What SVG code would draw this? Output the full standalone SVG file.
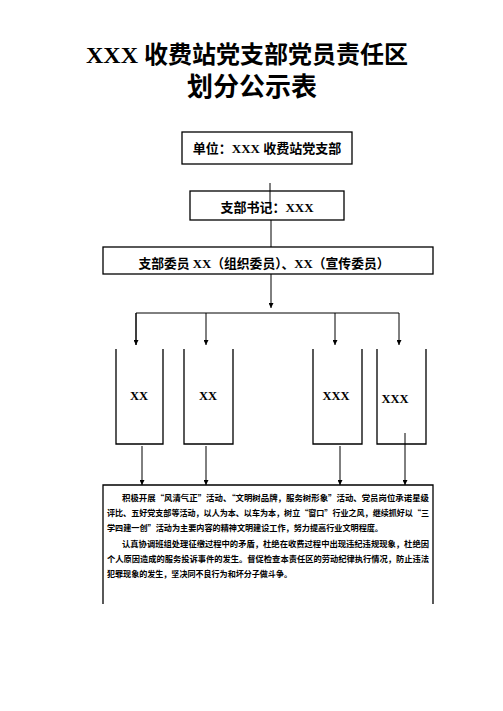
<svg xmlns="http://www.w3.org/2000/svg" width="503" height="711" viewBox="0 0 503 711">
<style>
.bg{fill:#fff}
.box{fill:none;stroke:#000;stroke-width:1.3}
.ln{fill:none;stroke:#000;stroke-width:1}
.title{font-family:"Liberation Serif","Noto Sans CJK SC",serif;font-weight:bold;fill:#000;text-anchor:middle}
.lbl{font-family:"Liberation Serif","Noto Sans CJK SC",serif;font-weight:bold;font-size:13px;fill:#000;text-anchor:middle}
.nm{font-family:"Liberation Serif","Noto Sans CJK SC",serif;font-weight:bold;font-size:12.5px;fill:#000;text-anchor:middle}
.body{font-family:"Noto Sans CJK SC",sans-serif;font-weight:bold;font-size:8.5px;fill:#000}
</style>
<defs>
<marker id="ah" viewBox="0 0 6 6" refX="6" refY="3" markerWidth="5" markerHeight="5" orient="auto" markerUnits="userSpaceOnUse"><path d="M0,0 L6,3 L0,6 z" fill="#000"/></marker>
</defs>
<rect class="bg" x="0" y="0" width="503" height="711"/>
<g id="title">
<text class="title" x="247" y="63" font-size="24">XXX 收费站党支部党员责任区</text>
<text class="title" x="252" y="96" font-size="26">划分公示表</text>
</g>
<g id="connectors">
<line class="ln" x1="270" y1="183" x2="270" y2="210"/>
<line class="ln" x1="271" y1="220" x2="271" y2="247"/>
<line class="ln" x1="271" y1="274" x2="271" y2="308" marker-end="url(#ah)"/>
<polyline class="ln" points="136,345 136,313 399,313 399,345" marker-end="url(#ah)"/>
<line class="ln" x1="136" y1="313" x2="136" y2="345" marker-end="url(#ah)"/>
<line class="ln" x1="206" y1="313" x2="206" y2="345" marker-end="url(#ah)"/>
<line class="ln" x1="335" y1="313" x2="335" y2="345" marker-end="url(#ah)"/>
<line class="ln" x1="142" y1="446" x2="142" y2="485" marker-end="url(#ah)"/>
<line class="ln" x1="206" y1="446" x2="206" y2="485" marker-end="url(#ah)"/>
<line class="ln" x1="340" y1="446" x2="340" y2="485" marker-end="url(#ah)"/>
<line class="ln" x1="405" y1="433" x2="405" y2="485" marker-end="url(#ah)"/>
</g>
<g id="unit">
<rect class="box" x="182" y="132" width="170" height="32"/>
<text class="lbl" x="267" y="152.5">单位：XXX 收费站党支部</text>
</g>
<g id="secretary">
<rect class="box" x="190" y="191" width="154" height="29"/>
<text class="lbl" x="267" y="211.5">支部书记：XXX</text>
</g>
<g id="committee">
<rect class="box" x="103" y="247" width="330" height="27"/>
<text class="lbl" x="264" y="267.5" textLength="251" lengthAdjust="spacingAndGlyphs">支部委员 XX（组织委员）、XX（宣传委员）</text>
</g>
<g id="member1">
<polyline class="box" points="116,349 116,444 163,444 163,349"/>
<text class="nm" x="139" y="400">XX</text>
</g>
<g id="member2">
<polyline class="box" points="184,349 184,444 233,444 233,349"/>
<text class="nm" x="208" y="400">XX</text>
</g>
<g id="member3">
<polyline class="box" points="313,349 313,444 362,444 362,349"/>
<text class="nm" x="336" y="400">XXX</text>
</g>
<g id="member4">
<polyline class="box" points="377,349 377,444 426,444 426,349"/>
<text class="nm" x="395" y="403">XXX</text>
</g>
<g id="duties">
<polyline class="box" points="103,604 103,485 433,485 433,604"/>
<text class="body" x="122" y="501" textLength="307" lengthAdjust="spacingAndGlyphs">积极开展“风清气正”活动、“文明树品牌，服务树形象”活动、党员岗位承诺星级</text>
<text class="body" x="107" y="516" textLength="322" lengthAdjust="spacingAndGlyphs">评比、五好党支部等活动，以人为本、以车为本，树立“窗口”行业之风，继续抓好以“三</text>
<text class="body" x="107" y="531" textLength="276" lengthAdjust="spacingAndGlyphs">学四建一创”活动为主要内容的精神文明建设工作，努力提高行业文明程度。</text>
<text class="body" x="122" y="547" textLength="307" lengthAdjust="spacingAndGlyphs">认真协调班组处理征缴过程中的矛盾，杜绝在收费过程中出现违纪违规现象，杜绝因</text>
<text class="body" x="107" y="562" textLength="322" lengthAdjust="spacingAndGlyphs">个人原因造成的服务投诉事件的发生。督促检查本责任区的劳动纪律执行情况，防止违法</text>
<text class="body" x="107" y="577" textLength="185" lengthAdjust="spacingAndGlyphs">犯罪现象的发生，坚决同不良行为和坏分子做斗争。</text>
</g>
</svg>
